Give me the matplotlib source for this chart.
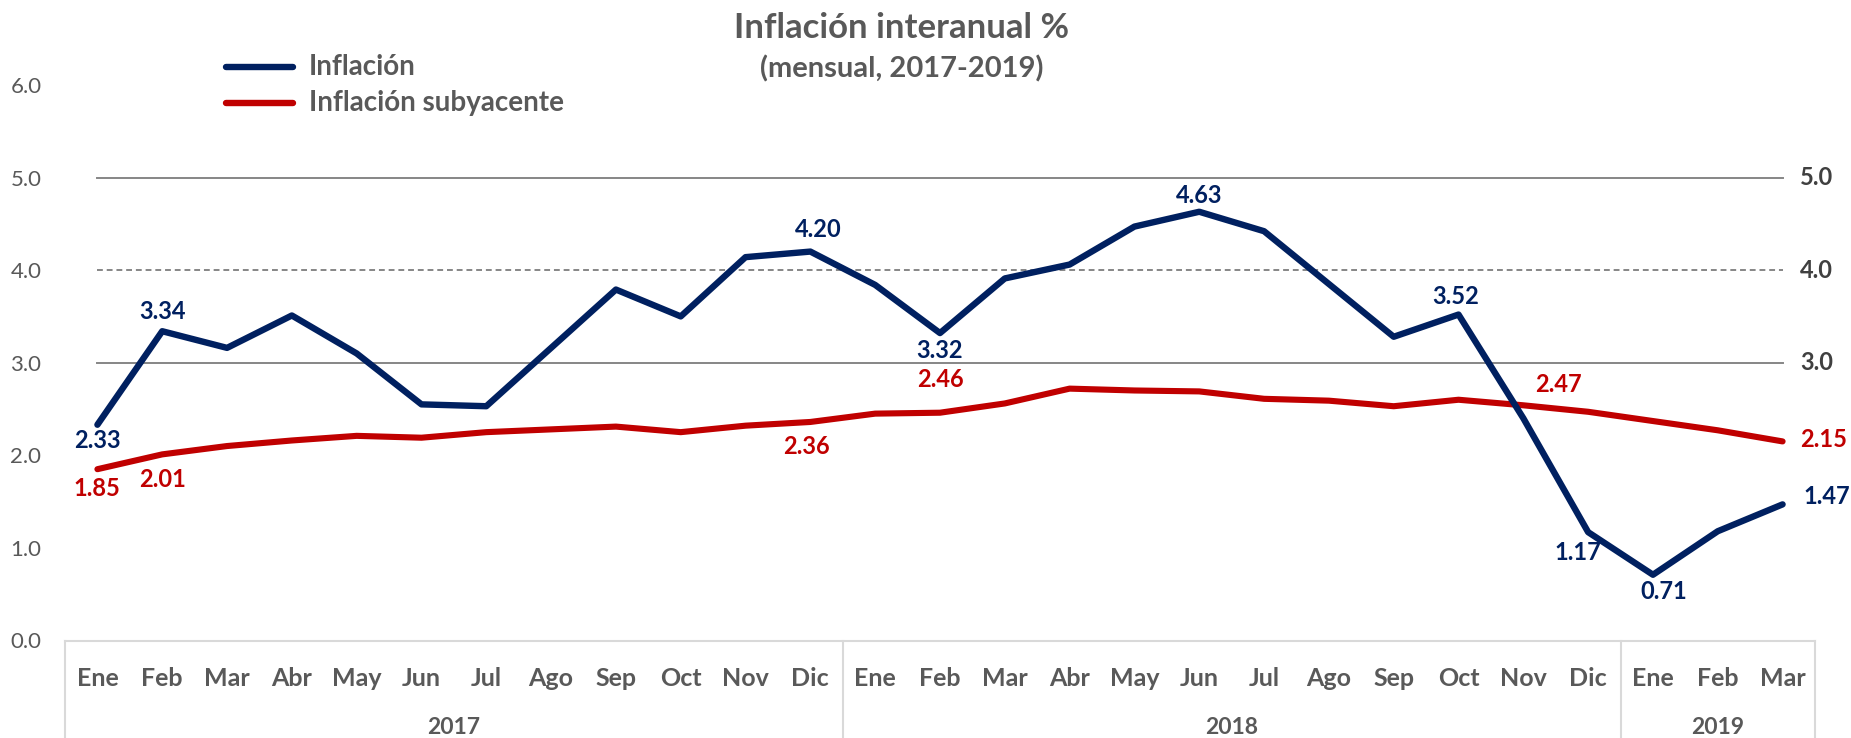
import matplotlib
matplotlib.use("Agg")
import matplotlib.pyplot as plt
from matplotlib.lines import Line2D

plt.rcParams['font.family'] = ['Lato', 'DejaVu Sans']

# ---- data ----
months = ["Ene", "Feb", "Mar", "Abr", "May", "Jun", "Jul", "Ago", "Sep", "Oct", "Nov", "Dic",
          "Ene", "Feb", "Mar", "Abr", "May", "Jun", "Jul", "Ago", "Sep", "Oct", "Nov", "Dic",
          "Ene", "Feb", "Mar"]
years = ["2017", "2018", "2019"]
year_counts = [12, 12, 3]

inflacion = [2.33, 3.34, 3.16, 3.51, 3.10, 2.55, 2.53, 3.16, 3.79, 3.50, 4.14, 4.20,
             3.84, 3.32, 3.91, 4.06, 4.47, 4.63, 4.42, 3.85, 3.28, 3.52, 2.40, 1.17,
             0.71, 1.18, 1.47]
subyacente = [1.85, 2.01, 2.10, 2.16, 2.21, 2.19, 2.25, 2.28, 2.31, 2.25, 2.32, 2.36,
              2.45, 2.46, 2.56, 2.72, 2.70, 2.69, 2.61, 2.59, 2.53, 2.60, 2.54, 2.47,
              2.37, 2.27, 2.15]

left_ticks = [0.0, 1.0, 2.0, 3.0, 4.0, 5.0, 6.0]
right_ticks = [3.0, 4.0, 5.0]

# labelled points: (index, pixel offset dx, dy)
blue_labels = [(0, 0, -16), (1, 0, 20), (11, 8, 22), (13, 0, -17), (17, 0, 16),
               (21, -3, 18), (23, -10, -20), (24, 11, -17), (26, 44, 8)]
red_labels = [(0, 0, -19), (1, 0, -25), (11, -4, -25), (13, 0, 33), (23, -30, 27),
              (26, 41, 2)]

BLUE = "#002060"
RED = "#C00000"
GRAY = "#595959"
DARK = "#404040"
GRID = "#868686"
BOX = "#D9D9D9"

W, H = 1851, 738
fig = plt.figure(figsize=(W / 100, H / 100), dpi=100)

ax_left, ax_right = 65, 1815
y0_px, y6_px = 640.5, 84.9
ax = fig.add_axes([ax_left / W, (H - y0_px) / H, (ax_right - ax_left) / W, (y0_px - y6_px) / H])
n = len(months)
ax.set_xlim(-0.5, n - 0.5)
ax.set_ylim(0, 6)
for s in ax.spines.values():
    s.set_visible(False)
ax.set_xticks([])
ax.set_yticks(left_ticks)
ax.set_yticklabels([f"{v:.1f}" for v in left_ticks], fontsize=16, color=GRAY)
ax.tick_params(axis='y', length=0, pad=17)

# gridlines
x = list(range(n))
for v in right_ticks:
    ls = (0, (3, 2)) if v == 4.0 else '-'
    ax.plot([0, n - 1], [v, v], color=GRID, lw=1.4, ls=ls, zorder=1)
    ax.text(n - 1 + 0.27, v, f"{v:.1f}", ha='left', va='center', fontsize=17,
            fontweight='bold', color=DARK)

# series
ax.plot(x, subyacente, color=RED, lw=4.4, solid_joinstyle='round', solid_capstyle='round', zorder=3)
ax.plot(x, inflacion, color=BLUE, lw=4.6, solid_joinstyle='round', solid_capstyle='round', zorder=4)

for i, dx, dy in blue_labels:
    ax.annotate(f"{inflacion[i]:.2f}", (i, inflacion[i]), xytext=(dx * 0.72, dy * 0.72),
                textcoords='offset points', ha='center', va='center', fontsize=17,
                fontweight='bold', color=BLUE, zorder=5)
for i, dx, dy in red_labels:
    ax.annotate(f"{subyacente[i]:.2f}", (i, subyacente[i]), xytext=(dx * 0.72, dy * 0.72),
                textcoords='offset points', ha='center', va='center', fontsize=17,
                fontweight='bold', color=RED, zorder=5)

# category box
ybot = -1.2
ax.plot([-0.5, n - 0.5], [0, 0], color=BOX, lw=1.5, clip_on=False, zorder=2)
edges = [-0.5]
acc = -0.5
for c in year_counts:
    acc += c
    edges.append(acc)
for e in edges:
    ax.plot([e, e], [0, ybot], color=BOX, lw=1.5, clip_on=False, zorder=2)
for i, m in enumerate(months):
    ax.text(i, -0.405, m, ha='center', va='center', fontsize=18, fontweight='bold',
            color=GRAY, clip_on=False)
start = -0.5
for yr, c in zip(years, year_counts):
    ax.text(start + c / 2, -0.94, yr, ha='center', va='center', fontsize=16.5,
            fontweight='bold', color=GRAY, clip_on=False)
    start += c

# title
fig.text(902 / W, 1 - 28 / H, "Inflación interanual %", ha='center', va='center',
         fontsize=25, fontweight='bold', color=GRAY)
fig.text(902 / W, 1 - 69 / H, "(mensual, 2017-2019)", ha='center', va='center',
         fontsize=21, fontweight='bold', color=GRAY)

# legend (manual)
for yy, col, lab in [(67, BLUE, "Inflación"), (103, RED, "Inflación subyacente")]:
    fig.add_artist(Line2D([226 / W, 293 / W], [1 - yy / H, 1 - yy / H], color=col, lw=4.6,
                          solid_capstyle='round'))
    fig.text(309 / W, 1 - yy / H, lab, ha='left', va='center', fontsize=20,
             fontweight='bold', color=GRAY)

fig.savefig("out.png", dpi=100)
